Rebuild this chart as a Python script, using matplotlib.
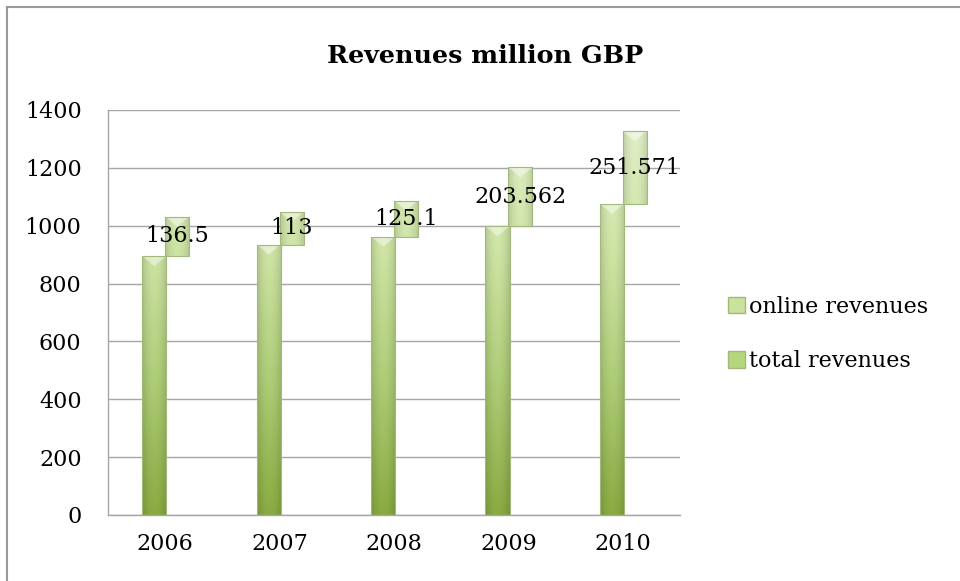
import numpy as np
import matplotlib
matplotlib.use("Agg")
import matplotlib.pyplot as plt
from matplotlib.colors import LinearSegmentedColormap
from matplotlib.lines import Line2D
from matplotlib.patches import Polygon

years = ["2006", "2007", "2008", "2009", "2010"]
total_revenues = [895, 935, 962, 998, 1075]
online_revenues = [136.5, 113, 125.1, 203.562, 251.571]

plt.rcParams["font.family"] = ["DejaVu Serif"]

# green gradient, dark at the base, pale towards the top of the chart
green = LinearSegmentedColormap.from_list(
    "green", ["#8aab42", "#aecd77", "#cfe5a6", "#e3f0cc"])


def shade_bar(ax, patch, ymax):
    """Fill a bar with a vertical gradient, darker sides and a bevel on top."""
    x0, y0 = patch.get_x(), patch.get_y()
    w, h = patch.get_width(), patch.get_height()
    ys = np.linspace(y0, y0 + h, 120)
    u = np.linspace(-1, 1, 40)
    base = green(np.clip(ys / ymax, 0, 1))[:, :3]
    side = 1 - 0.14 * np.abs(u) ** 2
    img = base[:, None, :] * side[None, :, None]
    im = ax.imshow(img, extent=[x0, x0 + w, y0, y0 + h], origin="lower",
                   aspect="auto", zorder=2, interpolation="bilinear")
    im.set_clip_path(patch)
    # light bevel triangle at the top of the bar
    top = y0 + h
    bev = Polygon([[x0, top], [x0 + w, top], [x0 + w / 2, top - min(35, h / 2)]],
                  closed=True, facecolor="white", alpha=0.45, edgecolor="none",
                  zorder=2.5)
    ax.add_patch(bev)
    patch.set_facecolor("none")
    patch.set_edgecolor("#a3b97c")
    patch.set_linewidth(0.8)
    patch.set_zorder(3)


fig = plt.figure(figsize=(9.6, 5.81), dpi=100)
ax = fig.add_axes([0.1125, 0.1136, 0.5958, 0.6971])

x = np.arange(len(years))
width = 0.21
ymax = 1400

total_bars = ax.bar(x - 0.095, total_revenues, width, label="total revenues")
online_bars = ax.bar(x + 0.105, online_revenues, width,
                     bottom=total_revenues, label="online revenues")

for p in list(total_bars) + list(online_bars):
    shade_bar(ax, p, ymax)

for xi, base, val in zip(x, total_revenues, online_revenues):
    ax.text(xi + 0.105, base + val / 2, f"{val:g}", ha="center", va="center",
            fontsize=16, color="black", zorder=5)

ax.set_xlim(-0.5, len(years) - 0.5)
ax.set_ylim(0, ymax)
ax.set_yticks(np.arange(0, 1401, 200))
ax.set_xticks(x)
ax.set_xticklabels(years)
ax.tick_params(axis="both", length=0, labelsize=16)
ax.tick_params(axis="y", pad=19)
ax.tick_params(axis="x", pad=13)

ax.grid(axis="y", color="#a6a6a6", linewidth=1)
ax.set_axisbelow(True)
for s in ["top", "right"]:
    ax.spines[s].set_visible(False)
for s in ["left", "bottom"]:
    ax.spines[s].set_color("#a6a6a6")
    ax.spines[s].set_linewidth(1)

fig.text(0.505, 0.903, "Revenues million GBP", ha="center", va="center",
         fontsize=18.3, fontweight="bold")

# legend: same green for both series
handles = [plt.Rectangle((0, 0), 1, 1, facecolor="#c9e29c", edgecolor="#a3b97c"),
           plt.Rectangle((0, 0), 1, 1, facecolor="#b5d67c", edgecolor="#a3b97c")]
fig.legend(handles, ["online revenues", "total revenues"],
           loc="center left", bbox_to_anchor=(0.749, 0.425), frameon=False,
           fontsize=16, handlelength=0.75, handleheight=0.75, handletextpad=0.2,
           labelspacing=1.45, borderaxespad=0)

# outer chart border (left and top only visible)
fig.add_artist(Line2D([6.5 / 960, 6.5 / 960], [0, 1 - 6.5 / 581],
                      transform=fig.transFigure, color="#999999", linewidth=1.5))
fig.add_artist(Line2D([6.5 / 960, 1], [1 - 6.5 / 581, 1 - 6.5 / 581],
                      transform=fig.transFigure, color="#999999", linewidth=1.5))

fig.savefig("out.png", dpi=100)
plt.close(fig)
